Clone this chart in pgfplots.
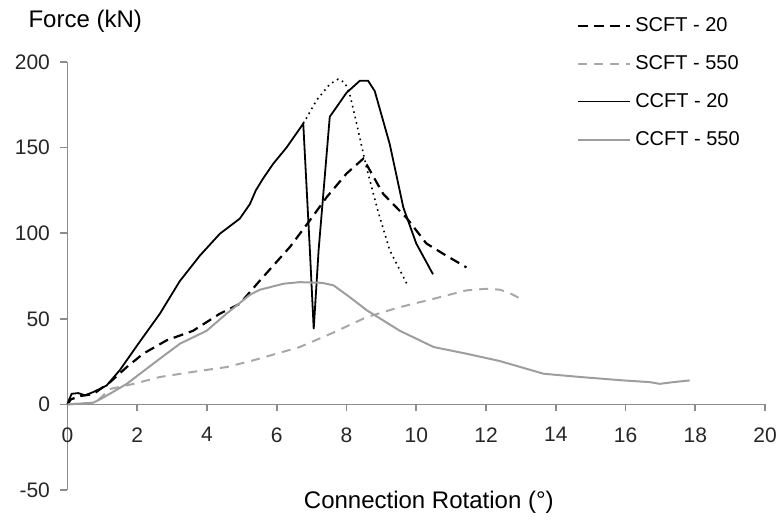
\documentclass[border=0pt]{standalone}
\usepackage{fontspec}
\setmainfont{Liberation Sans}
\usepackage{pgfplots}
\pgfplotsset{compat=1.18}
\definecolor{lgray}{HTML}{A8A8A8}
\definecolor{mgray}{HTML}{9E9E9E}
\definecolor{axgray}{HTML}{8C8C8C}
\begin{document}
\begin{tikzpicture}
\begin{axis}[name=ax, scale only axis, width=348.75pt, height=214pt,
 xmin=0, xmax=20, ymin=-50, ymax=200,
 axis x line=middle, axis y line=left,
 axis line style={-, draw=axgray, line width=0.8pt},
 xtick={0,2,...,20}, ytick={-50,0,...,200},
 hide obscured x ticks=false, hide obscured y ticks=false,
 tick align=outside, major tick length=3.5pt,
 tick style={draw=axgray, line width=0.8pt},
 /pgf/number format/assume math mode=true,
 tick label style={font=\fontsize{10.5}{12}\selectfont, text=black!85},
 y tick label style={xshift=-1.75pt},
 x tick label style={yshift=-4.5pt},
 clip=false,
 legend cell align=left,
 legend style={at={(rel axis cs:0.73,1.115)}, anchor=north west, draw=none, fill=none,
   font=\fontsize{10}{12}\selectfont, row sep=6.5pt, inner sep=0pt},
 legend image code/.code={\draw[#1] (0pt,0pt) -- (26pt,0pt);},
]
% SCFT - 20
\addplot[black, line width=1.1pt, dash pattern=on 5pt off 3pt] coordinates {
(0,0) (0.1,3) (0.4,5) (0.74,6) (1.22,13) (1.7,21.8) (2.17,29.6) (2.84,37.4) (3.6,43)
(4.37,53) (4.94,58.8) (5.52,72.4) (6.38,92) (6.95,107.5) (7.43,121) (8.0,134.8)
(8.48,143.5) (8.67,136.7) (9.05,123) (9.72,109) (10.29,94) (10.77,88) (11.44,80)};
\addlegendentry{SCFT - 20}
% SCFT - 550
\addplot[lgray, line width=1pt, dash pattern=on 4.5pt off 3.5pt] coordinates {
(0,0) (0.8,1) (1.22,9) (1.9,12) (2.65,16) (3.6,19) (4.56,21.8) (5.32,25.7) (6.66,33.5)
(7.63,42) (8.58,51) (9.53,56.8) (10.5,61.7) (11.44,66.6) (12.0,67.5) (12.4,67)
(12.68,65) (13.06,61)};
\addlegendentry{SCFT - 550}
% CCFT - 20
\addplot[black, line width=0.9pt] coordinates {
(0,0) (0.05,3) (0.12,6.2) (0.31,6.6) (0.5,5.3) (0.74,7.2) (1.12,11) (1.5,20) (2.03,35.4)
(2.65,53) (3.22,72) (3.8,87) (4.37,99.7) (4.94,108.5) (5.23,117) (5.4,125) (5.61,132)
(5.9,140.6) (6.28,150) (6.76,164) (6.95,90) (7.06,44) (7.2,90) (7.52,168) (8.0,182)
(8.38,189) (8.62,189) (8.81,183) (9.24,152) (9.63,115) (10.0,94) (10.48,76)};
\addlegendentry{CCFT - 20}
% CCFT - 550
\addplot[mgray, line width=1pt] coordinates {
(0,0) (0.74,1) (1.03,4) (1.7,12) (2.46,23.8) (3.22,35.4) (3.99,43) (4.56,53) (5.23,64)
(5.52,67) (6.2,70.5) (6.66,71.4) (7.3,71) (7.63,69.5) (8.09,62.7) (8.58,55) (9.53,43)
(10.5,33.5) (11.44,29.6) (12.4,25.3) (13.65,17.9) (14.7,16) (15.94,14) (16.7,13)
(16.98,12) (17.37,13) (17.84,14)};
\addlegendentry{CCFT - 550}
% dotted (no legend)
\addplot[black, line width=0.8pt, dotted, forget plot] coordinates {
(6.76,164) (7.14,177.6) (7.52,187) (7.76,190) (7.95,188) (8.09,181.5) (8.29,164)
(8.57,138.6) (8.9,113) (9.24,90) (9.73,70.5)};
\node[anchor=west, font=\fontsize{12}{14}\selectfont] at (rel axis cs:-0.066,1.096) {Force (kN)};
\node[font=\fontsize{12}{14}\selectfont] at (rel axis cs:0.518,-0.028) {Connection Rotation (°)};
\end{axis}
\pgfresetboundingbox
\path[use as bounding box] ([xshift=-33.75pt,yshift=-15.5pt]ax.south west) rectangle ([xshift=7.5pt,yshift=31pt]ax.north east);
\end{tikzpicture}
\end{document}
